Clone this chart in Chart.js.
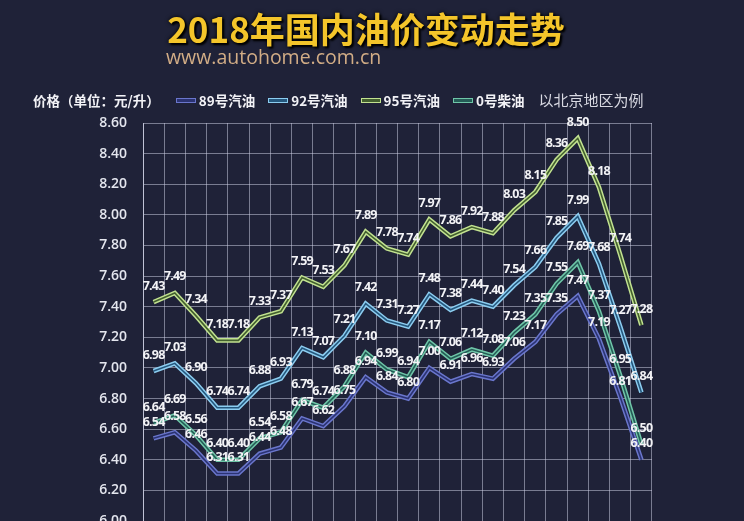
<!DOCTYPE html>
<html>
<head>
<meta charset="utf-8">
<script src="https://cdn.jsdelivr.net/npm/chart.js@4"></script>
<style>
  html, body { margin: 0; padding: 0; }
  body {
    width: 744px; height: 521px; overflow: hidden; position: relative;
    background: #1f2238;
    font-family: "Noto Sans CJK SC", "Noto Sans", sans-serif;
  }
  #wrap { position: absolute; left: 0; top: 0; width: 744px; height: 560px; }
  #title {
    position: absolute; left: 0; width: 732px; top: 10px; text-align: center;
    font-size: 35px; line-height: 35px; font-weight: 700; color: #f4c52a;
    text-shadow: 2px 2px 2px #000, 0 0 4px #000;
  }
  #sub {
    position: absolute; left: 166px; top: 47px;
    font-family: "Open Sans", sans-serif; font-size: 19.5px; line-height: 20px;
    color: #d2ad86;
  }
  #legend {
    position: absolute; left: 33px; top: 91px; height: 18px;
    display: flex; align-items: center; white-space: nowrap;
    font-size: 13.5px; line-height: 18px; font-weight: 700; color: #f2f2f6;
  }
  #legend .sw { display: inline-block; width: 20px; height: 5px; box-sizing: border-box; margin-right: 3px; }
  #legend .it { margin-right: 13px; display: flex; align-items: center; }
  #legend .unit { margin-right: 16px; }
  #legend .note { font-weight: 400; font-size: 15px; color: #d8d9e2; margin-left: 1px; }
</style>
</head>
<body>
<div id="wrap"><canvas id="oilChart" width="744" height="560"></canvas></div>
<div id="title">2018年国内油价变动走势</div>
<div id="sub">www.autohome.com.cn</div>
<div id="legend"></div>
<script>
// 调价次数（x轴标签不在图中显示）
var rounds = ['1','2','3','4','5','6','7','8','9','10','11','12',
              '13','14','15','16','17','18','19','20','21','22','23','24'];

// 各油品价格（元/升，北京地区）
var price89 = [6.54, 6.58, 6.46, 6.31, 6.31, 6.44, 6.48, 6.67, 6.62, 6.75, 6.94, 6.84,
               6.80, 7.00, 6.91, 6.96, 6.93, 7.06, 7.17, 7.35, 7.47, 7.19, 6.81, 6.40];
var price92 = [6.98, 7.03, 6.90, 6.74, 6.74, 6.88, 6.93, 7.13, 7.07, 7.21, 7.42, 7.31,
               7.27, 7.48, 7.38, 7.44, 7.40, 7.54, 7.66, 7.85, 7.99, 7.68, 7.27, 6.84];
var price95 = [7.43, 7.49, 7.34, 7.18, 7.18, 7.33, 7.37, 7.59, 7.53, 7.67, 7.89, 7.78,
               7.74, 7.97, 7.86, 7.92, 7.88, 8.03, 8.15, 8.36, 8.50, 8.18, 7.74, 7.28];
var diesel0 = [6.64, 6.69, 6.56, 6.40, 6.40, 6.54, 6.58, 6.79, 6.74, 6.88, 7.10, 6.99,
               6.94, 7.17, 7.06, 7.12, 7.08, 7.23, 7.35, 7.55, 7.69, 7.37, 6.95, 6.50];

var seriesNames = ['89号汽油', '92号汽油', '95号汽油', '0号柴油'];
var outerColors = ['#6a76cc', '#8ccdf0', '#c2e290', '#6fc6a8'];
var innerColors = ['#2b3372', '#25587e', '#43602f', '#245c56'];

var yTicks = { min: 6.0, max: 8.6, step: 0.2 };

// 双线效果：在原线上再画一条细的深色线
var innerLine = {
    id: 'innerLine',
    afterDatasetDraw: function(chart, args) {
        var pts = args.meta.data;
        var ctx = chart.ctx;
        ctx.save();
        ctx.strokeStyle = innerColors[args.index];
        ctx.lineWidth = 1.6;
        ctx.lineJoin = 'miter';
        ctx.beginPath();
        pts.forEach(function(p, i) {
            if (i === 0) ctx.moveTo(p.x, p.y); else ctx.lineTo(p.x, p.y);
        });
        ctx.stroke();
        ctx.restore();
    }
};

// 数据标签
var valueLabels = {
    id: 'valueLabels',
    afterDatasetsDraw: function(chart) {
        var ctx = chart.ctx;
        ctx.save();
        ctx.font = '700 12.5px "Open Sans", sans-serif';
        ctx.letterSpacing = '-0.8px';
        ctx.fillStyle = '#f3f3f6';
        ctx.textAlign = 'center';
        ctx.textBaseline = 'middle';
        chart.data.datasets.forEach(function(ds, di) {
            var meta = chart.getDatasetMeta(di);
            meta.data.forEach(function(p, i) {
                ctx.fillText(ds.data[i].toFixed(2), p.x, p.y - 16);
            });
        });
        ctx.restore();
    }
};

var ctx = document.getElementById('oilChart').getContext('2d');
var allSeries = [price89, price92, price95, diesel0];
var oilChart = new Chart(ctx, {
    type: 'line',
    data: {
        labels: rounds,
        datasets: allSeries.map(function(d, i) {
            return {
                label: seriesNames[i],
                data: d,
                borderColor: outerColors[i],
                borderWidth: 4.6,
                borderJoinStyle: 'miter',
                pointRadius: 0,
                tension: 0,
                fill: false
            };
        })
    },
    options: {
        responsive: false,
        animation: false,
        layout: { padding: { top: 123, right: 92, bottom: 39, left: 0 } },
        plugins: {
            legend: { display: false },
            tooltip: { enabled: false },
            title: { display: false }
        },
        scales: {
            x: {
                offset: true,
                grid: { offset: true, color: 'rgba(205,208,228,0.52)', lineWidth: 1, drawTicks: false },
                border: { color: 'rgba(205,208,228,0.6)' },
                ticks: { display: false }
            },
            y: {
                min: yTicks.min,
                max: yTicks.max,
                afterFit: function(scale) { scale.width = 143; },
                grid: { color: 'rgba(205,208,228,0.52)', lineWidth: 1, drawTicks: false },
                border: { color: 'rgba(215,218,235,0.75)' },
                ticks: {
                    stepSize: yTicks.step,
                    padding: 16,
                    color: '#e4e6ee',
                    font: { family: '"Open Sans", sans-serif', size: 14, weight: '600' },
                    callback: function(v) { return Number(v).toFixed(2); }
                }
            }
        }
    },
    plugins: [innerLine, valueLabels]
});

// 图例
var legend = document.getElementById('legend');
var html = '<span class="unit">价格（单位：元/升）</span>';
seriesNames.forEach(function(n, i) {
    html += '<span class="it"><span class="sw" style="background:' + innerColors[i] +
            ';border:1px solid ' + outerColors[i] + '"></span>' + n + '</span>';
});
html += '<span class="note">以北京地区为例</span>';
legend.innerHTML = html;
</script>
</body>
</html>
